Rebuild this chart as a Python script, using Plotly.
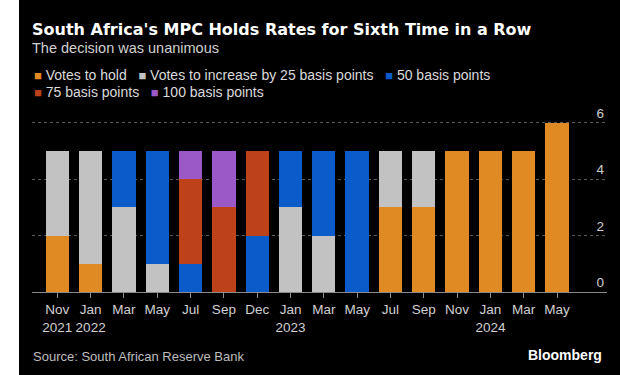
import plotly.graph_objects as go

# Monetary Policy Committee meetings and how the members voted
meetings = ["Nov<br>2021", "Jan<br>2022", "Mar", "May", "Jul", "Sep", "Dec",
            "Jan<br>2023", "Mar", "May", "Jul", "Sep", "Nov", "Jan<br>2024",
            "Mar", "May"]

hold_votes = [2, 1, 0, 0, 0, 0, 0, 0, 0, 0, 3, 3, 5, 5, 5, 6]
bp25_votes = [3, 4, 3, 1, 0, 0, 0, 3, 2, 0, 2, 2, 0, 0, 0, 0]
bp50_votes = [0, 0, 2, 4, 1, 0, 2, 2, 3, 5, 0, 0, 0, 0, 0, 0]
bp75_votes = [0, 0, 0, 0, 3, 3, 3, 0, 0, 0, 0, 0, 0, 0, 0, 0]
bp100_votes = [0, 0, 0, 0, 1, 2, 0, 0, 0, 0, 0, 0, 0, 0, 0, 0]

series_names = ["Votes to hold", "Votes to increase by 25 basis points",
                "50 basis points", "75 basis points", "100 basis points"]
series_values = [hold_votes, bp25_votes, bp50_votes, bp75_votes, bp100_votes]
series_colors = ["#E08A24", "#C2C2C2", "#0C5BCB", "#BE4219", "#9A59C6"]

y_ticks = [0, 2, 4, 6]

x_pos = list(range(len(meetings)))

fig = go.Figure()
for name, vals, col in zip(series_names, series_values, series_colors):
    fig.add_trace(go.Bar(x=x_pos, y=vals, name=name, marker_color=col,
                         marker_line_width=0, showlegend=False))

# page layout in pixels -> paper coordinates of the plot area
L, R, T, B = 32, 607, 98, 291.7
W, H = R - L, B - T
UNIT = 28.17  # pixels per vote


def px(x):
    return (x - L) / W


def py(y):
    return (B - y) / H


annotations = [
    dict(text="<b>South Africa's MPC Holds Rates for Sixth Time in a Row</b>",
         x=px(30), y=py(30), xanchor="left", yanchor="middle",
         font=dict(family="DejaVu Sans", size=16, color="#FFFFFF")),
    dict(text="The decision was unanimous",
         x=px(30), y=py(48.5), xanchor="left", yanchor="middle",
         font=dict(family="Liberation Sans", size=14.5, color="#D0D0D0")),
    dict(text="Source: South African Reserve Bank",
         x=px(31), y=py(356), xanchor="left", yanchor="middle",
         font=dict(family="Liberation Sans", size=13, color="#BDBDBD")),
    dict(text="<b>Bloomberg</b>",
         x=px(604), y=py(355), xanchor="right", yanchor="middle",
         font=dict(family="Liberation Sans", size=14, color="#FFFFFF")),
]


def legend_row(idx):
    parts = []
    for i in idx:
        parts.append('<span style="color:%s;font-size:13px">■</span> %s'
                     % (series_colors[i], series_names[i]))
    return "   ".join(parts)


annotations.append(dict(text=legend_row([0, 1, 2]), x=px(32), y=py(75.5),
                        xanchor="left", yanchor="middle",
                        font=dict(family="Liberation Sans", size=14,
                                  color="#DADADA")))
annotations.append(dict(text=legend_row([3, 4]), x=px(32), y=py(92.3),
                        xanchor="left", yanchor="middle",
                        font=dict(family="Liberation Sans", size=14,
                                  color="#DADADA")))

for a in annotations:
    a.update(xref="paper", yref="paper", showarrow=False, align="left")

fig.update_layout(
    width=620, height=375,
    margin=dict(l=L, r=620 - R, t=T, b=375 - B),
    paper_bgcolor="#000000", plot_bgcolor="#000000",
    barmode="stack", bargap=0.3,
    annotations=annotations,
    shapes=[dict(type="rect", xref="paper", yref="paper",
                 x0=px(0), x1=px(19), y0=py(375), y1=py(0),
                 fillcolor="#FFFFFF", line_width=0, layer="below")],
    font=dict(family="Liberation Sans", color="#CFCFCF"),
)

fig.update_xaxes(
    range=[-0.76, 16.5], tickvals=x_pos, ticktext=meetings,
    showgrid=False, zeroline=False,
    showline=True, linecolor="#8A8A8A", linewidth=1,
    ticks="outside", ticklen=5, tickcolor="#8A8A8A",
    tickfont=dict(size=13.5, color="#D0D0D0"),
)

fig.update_yaxes(
    range=[0, H / UNIT], side="right", tickvals=y_ticks,
    ticklabelposition="inside top",
    showgrid=True, gridcolor="#5A5A5A", griddash="dot", gridwidth=1,
    zeroline=False, showline=False, ticks="",
    tickfont=dict(size=13.5, color="#CFCFCF"),
)

fig.write_html("out.html")
